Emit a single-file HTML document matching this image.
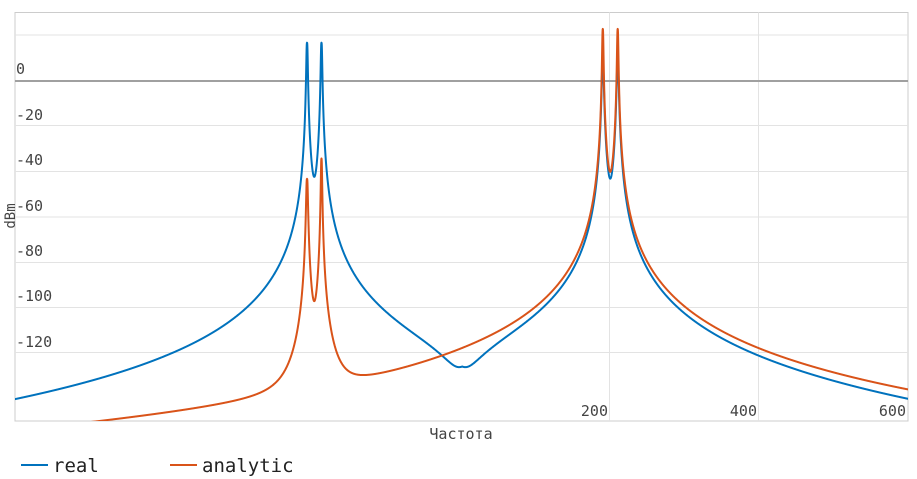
<!DOCTYPE html>
<html><head><meta charset="utf-8">
<style>
html,body{margin:0;padding:0;background:#fff;}
svg{display:block;font-family:"DejaVu Sans Mono","Liberation Mono",monospace;}
</style></head>
<body>
<svg id="s" width="917" height="479" viewBox="0 0 917 479" xmlns="http://www.w3.org/2000/svg">
<defs><clipPath id="c"><rect x="15" y="12.5" width="893" height="408.5"/></clipPath></defs>
<rect x="15" y="12.5" width="893" height="408.5" fill="#fff" stroke="#ccc" stroke-width="1"/>
<g stroke="#e3e3e3" stroke-width="1">
<line x1="15" x2="908" y1="35" y2="35"/>
<line x1="15" x2="908" y1="125.5" y2="125.5"/>
<line x1="15" x2="908" y1="171.5" y2="171.5"/>
<line x1="15" x2="908" y1="217" y2="217"/>
<line x1="15" x2="908" y1="262.5" y2="262.5"/>
<line x1="15" x2="908" y1="307.5" y2="307.5"/>
<line x1="15" x2="908" y1="352.5" y2="352.5"/>
<line x1="609.5" x2="609.5" y1="12.5" y2="421"/>
<line x1="758.5" x2="758.5" y1="12.5" y2="421"/>
</g>
<line x1="15" x2="908" y1="81" y2="81" stroke="#a0a0a0" stroke-width="2"/>
<g clip-path="url(#c)" fill="none" stroke-width="2" stroke-linejoin="round">
<path id="pb" stroke="#0072bd"/>
<path id="po" stroke="#d95319"/>
</g>
<g fill="#444" font-size="15">
<text x="16" y="74">0</text>
<text x="16" y="120">-20</text>
<text x="16" y="165">-40</text>
<text x="16" y="211">-60</text>
<text x="16" y="256">-80</text>
<text x="16" y="301">-100</text>
<text x="16" y="347">-120</text>
<text x="608" y="416" text-anchor="end">200</text>
<text x="757" y="416" text-anchor="end">400</text>
<text x="906" y="416" text-anchor="end">600</text>
<text x="461" y="439" text-anchor="middle">Частота</text>
<text transform="translate(15,216) rotate(-90)" text-anchor="middle" font-size="14">dBm</text>
</g>
<line x1="21" x2="48" y1="465" y2="465" stroke="#0072bd" stroke-width="2"/>
<text x="53" y="472" font-size="19" fill="#222">real</text>
<line x1="170" x2="197" y1="465" y2="465" stroke="#d95319" stroke-width="2"/>
<text x="202" y="472" font-size="19" fill="#222">analytic</text>
</svg>
<script>
function comp(f,fi,A,e){var d=Math.abs(f-fi);return A/(d*d*d+e);}
function X(f){return 460.5+0.745*f;}
function Y(db){return 81-2.265*db;}
var bs=[],os=[];
var s55=Math.pow(10,-55/20), s3=Math.pow(10,3/20);
for(var f=-602;f<=602;f+=0.2){
  var L=comp(f,-206,3.5,0.5)+comp(f,-186.6,3.5,0.5);
  var R=comp(f,191,3.5,1.4)+comp(f,211,3.5,1.4);
  var m=Math.min(L,R);
  var b=Math.sqrt(Math.pow(L-R,2)+Math.pow(0.55*m,2));
  var Ao=3.5*s3;
  var Lo=comp(f,-206,3.5*s55,0.9)+comp(f,-186.6,3.5*s55,0.32);
  var Ro=comp(f,191,Ao,Ao/14.1)+comp(f,211,Ao,Ao/14.1);
  var o=Lo+Ro;
  var bd=20*Math.log10(b), od=20*Math.log10(o);
  bs.push(X(f).toFixed(2)+","+Math.min(Y(bd),440).toFixed(2));
  os.push(X(f).toFixed(2)+","+Math.min(Y(od),440).toFixed(2));
}
document.getElementById("pb").setAttribute("d","M"+bs.join("L"));
document.getElementById("po").setAttribute("d","M"+os.join("L"));
</script>
</body></html>
